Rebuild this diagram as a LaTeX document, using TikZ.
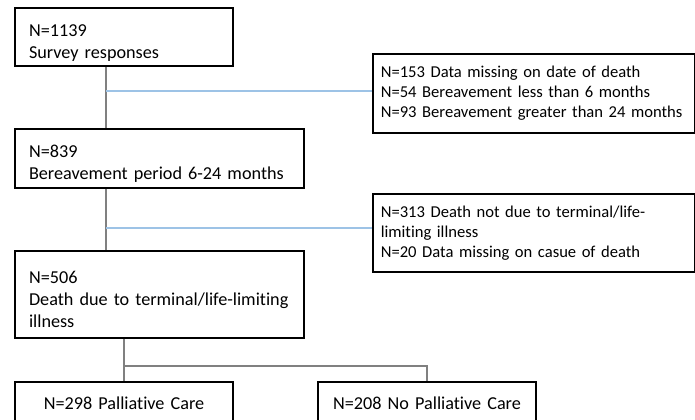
\documentclass[tikz,border=0pt]{standalone}
\usepackage{fontspec}
\setmainfont{Carlito}[RawFeature=-liga]
\usetikzlibrary{calc,positioning}
\definecolor{sideblue}{HTML}{9DC3E6}
\definecolor{linkgrey}{HTML}{808080}

\tikzset{
  mainbox/.style={draw, line width=1pt, anchor=north west, align=left,
    inner xsep=7pt, inner ysep=0pt, font=\fontsize{9.1}{11}\selectfont,
    execute at begin node={\rule{0pt}{11.5pt}}},
  sidebox/.style={draw, line width=0.8pt, anchor=north west, align=left,
    inner xsep=4pt, inner ysep=0pt, text width=153pt, font=\fontsize{8.3}{10}\selectfont},
  endbox/.style={draw, line width=1pt, anchor=north west, align=center,
    inner xsep=2pt, inner ysep=0pt, text width=105pt, minimum height=21pt,
    font=\fontsize{9.1}{11}\selectfont},
  link/.style={draw=linkgrey, line width=0.7pt},
  sidelink/.style={draw=sideblue, line width=0.7pt}
}

\begin{document}
\begin{tikzpicture}[x=0.5pt,y=-0.5pt]
\useasboundingbox (0,0) rectangle (695,419);

% flow boxes
\node[mainbox, text width=95pt, minimum height=29pt] (survey) at (14,7) {N=1139\\Survey responses};
\node[mainbox, text width=130.5pt, minimum height=29.5pt] (bereave) at (14,128) {N=839\\Bereavement period 6-24 months};
\node[mainbox, text width=130.5pt, minimum height=43.5pt] (illness) at (14,250) {N=506\\Death due to terminal/life-limiting\\illness};

% excluded
\node[sidebox, minimum height=39.5pt] (excl1) at (372,53) {N=153 Data missing on date of death\\N=54 Bereavement less than 6 months\\N=93 Bereavement greater than 24 months};
\node[sidebox, minimum height=39pt] (excl2) at (372,193) {N=313 Death not due to terminal/life-\\limiting illness\\N=20 Data missing on casue of death};

% groups
\node[endbox] (pc) at (14,381) {N=298 Palliative Care};
\node[endbox] (nopc) at (317,381) {N=208 No Palliative Care};

\path (survey.south west) ++(46pt,0) coordinate (spine);
\coordinate (in1) at ($(excl1.north west)!0.47!(excl1.south west)$);
\coordinate (in2) at ($(excl2.north west)!0.44!(excl2.south west)$);
\coordinate (fork) at ($(illness.south -| pc.north)!0.64!(pc.north)$);

\draw[link] (spine) -- (spine |- bereave.north);
\draw[link] (spine |- bereave.south) -- (spine |- illness.north);
\draw[sidelink] (spine |- in1) -- (in1);
\draw[sidelink] (spine |- in2) -- (in2);
\draw[link] (illness.south -| pc.north) -- (pc.north);
\draw[link] (fork) -| (nopc.north);

\end{tikzpicture}
\end{document}
